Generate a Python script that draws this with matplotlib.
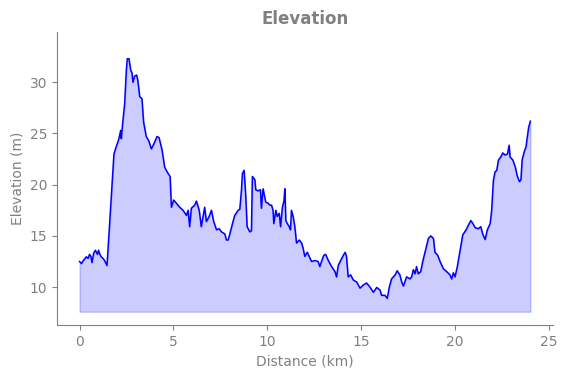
import matplotlib
matplotlib.use("Agg")
import matplotlib.pyplot as plt

# distance along the route (km) and elevation (m)
distance = [0.0, 0.1, 0.2, 0.36, 0.45, 0.53, 0.6, 0.66, 0.75, 0.84, 0.95, 1.01, 1.08, 1.15,
            1.25, 1.33, 1.46, 1.51, 1.6, 1.69, 1.83, 1.95, 2.08, 2.19, 2.22, 2.31, 2.4, 2.49,
            2.54, 2.63, 2.72, 2.79, 2.84, 2.93, 3.04, 3.1, 3.2, 3.32, 3.41, 3.55, 3.68, 3.82,
            3.96, 4.12, 4.23, 4.39, 4.53, 4.71, 4.82, 4.89, 5.01, 5.15, 5.33, 5.51, 5.69, 5.78,
            5.86, 5.95, 6.13, 6.22, 6.37, 6.48, 6.66, 6.75, 6.9, 7.02, 7.14, 7.29, 7.43, 7.55,
            7.73, 7.82, 7.91, 8.0, 8.14, 8.26, 8.44, 8.53, 8.62, 8.67, 8.76, 8.85, 8.92, 9.06,
            9.15, 9.2, 9.33, 9.38, 9.5, 9.63, 9.68, 9.77, 9.91, 10.03, 10.13, 10.22, 10.3, 10.34,
            10.45, 10.52, 10.63, 10.7, 10.8, 10.88, 10.93, 10.98, 11.06, 11.16, 11.23, 11.28,
            11.37, 11.46, 11.55, 11.7, 11.82, 11.9, 11.99, 12.12, 12.22, 12.35, 12.53, 12.7,
            12.79, 12.88, 13.0, 13.1, 13.24, 13.42, 13.6, 13.68, 13.77, 13.9, 14.04, 14.14,
            14.21, 14.3, 14.43, 14.57, 14.75, 14.93, 15.1, 15.28, 15.46, 15.64, 15.82, 16.0,
            16.08, 16.26, 16.38, 16.49, 16.61, 16.8, 16.91, 17.05, 17.15, 17.24, 17.41, 17.59,
            17.68, 17.77, 17.86, 17.94, 18.03, 18.16, 18.27, 18.39, 18.48, 18.57, 18.7, 18.84,
            18.92, 19.07, 19.19, 19.37, 19.55, 19.72, 19.81, 19.9, 19.99, 20.11, 20.26, 20.4,
            20.58, 20.7, 20.83, 20.94, 21.06, 21.23, 21.36, 21.46, 21.59, 21.71, 21.86, 21.94,
            22.03, 22.12, 22.21, 22.3, 22.42, 22.53, 22.65, 22.78, 22.87, 22.92, 23.07, 23.2,
            23.31, 23.42, 23.5, 23.56, 23.67, 23.77, 23.84, 23.91, 24.0]
elevation = [12.5, 12.3, 12.6, 12.96, 12.8, 13.2, 13.0, 12.4, 13.3, 13.6, 13.2, 13.6, 13.2, 12.96,
             12.8, 12.6, 12.1, 13.6, 16.2, 18.8, 23.0, 23.7, 24.4, 25.3, 24.5, 26.3, 27.9, 31.2,
             32.3, 32.3, 31.2, 30.9, 30.0, 30.6, 30.7, 30.2, 28.6, 28.4, 26.1, 24.7, 24.3, 23.5,
             24.0, 24.7, 24.6, 23.4, 21.7, 21.1, 20.8, 17.8, 18.5, 18.2, 17.8, 17.5, 17.0, 17.5,
             15.9, 17.7, 18.0, 18.4, 17.5, 15.9, 17.8, 16.4, 16.9, 17.5, 16.4, 15.6, 15.7, 15.4,
             15.2, 14.6, 14.6, 15.2, 16.2, 17.0, 17.5, 17.6, 19.5, 21.1, 21.4, 18.8, 15.9, 15.4,
             15.5, 20.8, 20.5, 19.5, 19.4, 19.5, 17.7, 19.6, 18.3, 18.2, 18.0, 18.0, 17.5, 16.2,
             17.5, 16.9, 17.2, 15.9, 17.8, 18.4, 19.6, 16.5, 16.2, 15.9, 15.6, 17.5,
             16.9, 15.9, 14.3, 14.6, 14.3, 13.8, 13.0, 13.4, 13.0, 12.5, 12.6, 12.5,
             12.0, 12.5, 13.1, 13.2, 12.6, 12.0, 11.5, 11.0, 12.1, 12.6, 13.1, 13.4,
             13.0, 11.0, 11.2, 10.7, 10.5, 9.9, 10.2, 10.4, 10.0, 9.5, 9.97, 9.7,
             9.2, 9.2, 8.9, 10.0, 10.8, 11.2, 11.6, 11.2, 10.5, 10.1, 11.0, 10.8,
             11.0, 11.7, 11.3, 12.0, 11.3, 11.5, 12.5, 13.4, 14.1, 14.75, 15.0, 14.75,
             13.4, 13.1, 12.5, 11.8, 11.5, 11.2, 10.8, 11.4, 11.0, 12.0, 13.6, 15.1,
             15.6, 16.05, 16.5, 16.2, 15.8, 15.7, 15.9, 15.2, 14.65, 15.6, 16.2, 17.5,
             20.4, 21.25, 21.4, 22.4, 22.7, 23.1, 22.9, 23.0, 23.85, 22.7, 22.4, 21.7,
             20.8, 20.3, 20.5, 22.4, 23.2, 23.7, 24.7, 25.6, 26.2]

fill_floor = 7.6

fig = plt.figure(figsize=(5.68, 3.78), dpi=100)
ax = fig.add_axes([0.1004, 0.1402, 0.873, 0.775])

ax.fill_between(distance, elevation, fill_floor, color="blue", alpha=0.2)
ax.plot(distance, elevation, color="blue", linewidth=1.1)

ax.set_xlim(-1.2, 25.2)
ax.set_ylim(6.3, 34.9)
ax.set_xticks([0, 5, 10, 15, 20, 25])
ax.set_yticks([10, 15, 20, 25, 30])

ax.set_title("Elevation", color="gray", fontweight="bold", fontsize=12)
ax.set_xlabel("Distance (km)", color="gray")
ax.set_ylabel("Elevation (m)", color="gray")

for side in ["top", "right"]:
    ax.spines[side].set_visible(False)
for side in ["left", "bottom"]:
    ax.spines[side].set_color("gray")
ax.tick_params(colors="gray")

plt.savefig("out.png")
